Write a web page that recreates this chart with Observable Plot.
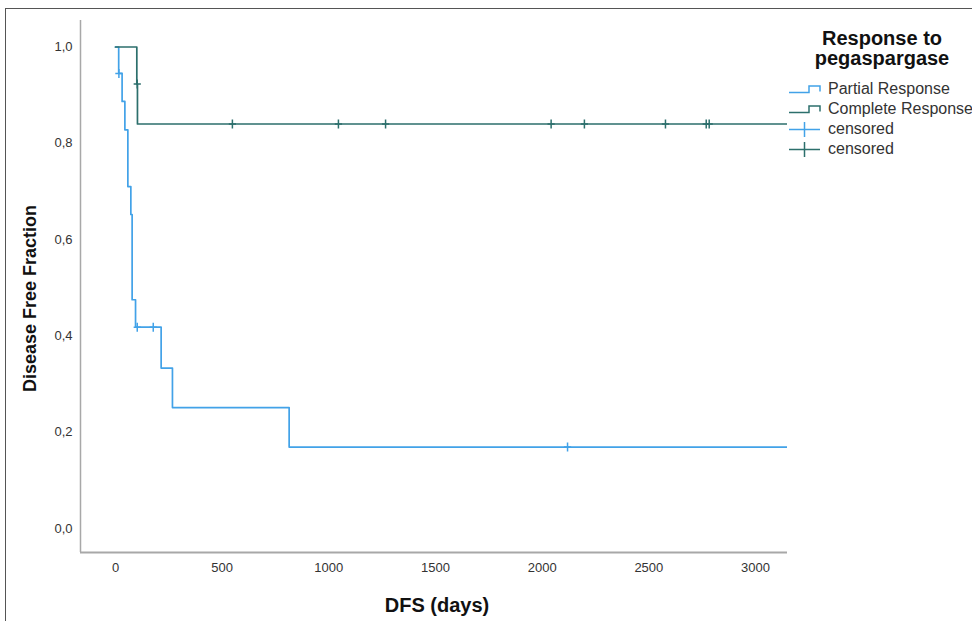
<!DOCTYPE html>
<html>
<head>
<meta charset="utf-8">
<script src="https://cdn.jsdelivr.net/npm/d3@7"></script>
<script src="https://cdn.jsdelivr.net/npm/@observablehq/plot@0.6"></script>
<style>
  html, body { margin: 0; padding: 0; background: #fff; }
  #wrap { position: relative; width: 972px; height: 621px; overflow: hidden; font-family: "Liberation Sans", Arial, sans-serif; }
  #border { position: absolute; left: 5px; top: 8px; width: 980px; height: 700px; border-top: 1.5px solid #555; border-left: 1.5px solid #555; box-sizing: border-box; pointer-events: none; }
  #legend { position: absolute; left: 780px; top: 28px; width: 192px; color: #333; }
  #legend .title { font-weight: bold; font-size: 20px; line-height: 20px; text-align: center; color: #111; margin-left: 22px; width: 160px; }
  #legend .item { position: absolute; left: 0; height: 20px; font-size: 16px; line-height: 20px; white-space: nowrap; }
  #legend .item svg { position: absolute; left: 6px; top: 0; }
  #legend .item span { position: absolute; left: 48px; top: 0; }
</style>
</head>
<body>
<div id="wrap">
  <div id="chart"></div>
  <div id="border"></div>
  <div id="legend"></div>
</div>
<script>
// ---- data ----
const groups = ["Partial Response", "Complete Response"];
const colors = ["#42a2e8", "#2c6f6c"];
const legendTitle = ["Response to", "pegaspargase"];
const censoredLabel = "censored";

const partialDays = [0, 15, 31, 44, 58, 72, 78, 94, 214, 267, 814, 3300];
const partialSurv = [1, 0.945, 0.887, 0.828, 0.71, 0.652, 0.475, 0.418, 0.333, 0.251, 0.169, 0.169];
const partialCensDays = [16, 102, 177, 2119];
const partialCensSurv = [0.945, 0.418, 0.418, 0.169];

const completeDays = [0, 100, 103, 3300];
const completeSurv = [1, 0.923, 0.84, 0.84];
const completeCensDays = [102, 548, 1045, 1266, 2042, 2198, 2578, 2769, 2783];
const completeCensSurv = [0.923, 0.84, 0.84, 0.84, 0.84, 0.84, 0.84, 0.84, 0.84];

const xTicks = [0, 500, 1000, 1500, 2000, 2500, 3000];
const yTicks = [0, 0.2, 0.4, 0.6, 0.8, 1.0];
const xLabel = "DFS (days)";
const yLabel = "Disease Free Fraction";
const xDomain = [-164, 3150];
const yDomain = [-0.05, 1.055];

// ---- build tables ----
const partial = partialDays.map((d, i) => ({day: d, surv: partialSurv[i]}));
const complete = completeDays.map((d, i) => ({day: d, surv: completeSurv[i]}));
const partialCens = partialCensDays.map((d, i) => ({day: d, surv: partialCensSurv[i]}));
const completeCens = completeCensDays.map((d, i) => ({day: d, surv: completeCensSurv[i]}));

const crossSymbol = {
  draw(context, size) {
    const r = Math.sqrt(size / Math.PI);
    context.moveTo(-r * 0.8, 0); context.lineTo(r * 0.8, 0);
    context.moveTo(0, -r); context.lineTo(0, r);
  }
};

const chart = Plot.plot({
  width: 972,
  height: 621,
  marginLeft: 80,
  marginRight: 185,
  marginTop: 20,
  marginBottom: 69,
  x: {domain: xDomain},
  y: {domain: yDomain},
  style: {fontFamily: "'Liberation Sans', Arial, sans-serif", fontSize: "13px", color: "#333", background: "transparent"},
  marks: [
    Plot.axisX({ticks: xTicks, tickSize: 0, tickPadding: 10, label: null, fontSize: 13, tickFormat: d => String(d)}),
    Plot.axisY({ticks: yTicks, tickSize: 0, tickPadding: 8, label: null, fontSize: 13,
      tickFormat: d => d.toFixed(1).replace(".", ",")}),
    Plot.ruleX([xDomain[0]], {stroke: "#a8a8a8", strokeWidth: 1.5}),
    Plot.ruleY([yDomain[0]], {stroke: "#a8a8a8", strokeWidth: 2}),
    Plot.line(partial, {x: "day", y: "surv", curve: "step-after", stroke: colors[0], strokeWidth: 1.7, clip: true}),
    Plot.line(complete, {x: "day", y: "surv", curve: "step-after", stroke: colors[1], strokeWidth: 1.7, clip: true}),
    Plot.dot(partialCens, {x: "day", y: "surv", symbol: crossSymbol, r: 4.5, stroke: colors[0], strokeWidth: 1.5, fill: "none"}),
    Plot.dot(completeCens, {x: "day", y: "surv", symbol: crossSymbol, r: 4.5, stroke: colors[1], strokeWidth: 1.5, fill: "none"}),
    Plot.text([xLabel], {frameAnchor: "bottom", dy: 53, dx: 3, fontSize: 20, fontWeight: "bold", fill: "#111", lineAnchor: "middle"}),
    Plot.text([yLabel], {frameAnchor: "left", textAnchor: "middle", dx: -50, dy: 12, rotate: -90, fontSize: 18, fontWeight: "bold", fill: "#111", lineAnchor: "middle"})
  ]
});
document.getElementById("chart").appendChild(chart);

// ---- legend ----
const legend = document.getElementById("legend");
legend.innerHTML = legendTitle.map(t => `<div class="title">${t}</div>`).join("");
const stepIcon = c => `<svg width="36" height="20"><path d="M3,13.5 H23 V7 H34 V12.5" fill="none" stroke="${c}" stroke-width="1.5"/></svg>`;
const censIcon = c => `<svg width="36" height="20"><path d="M3,10.5 H34 M18.5,3 V18" fill="none" stroke="${c}" stroke-width="1.5"/></svg>`;
const items = [
  {icon: stepIcon(colors[0]), label: groups[0]},
  {icon: stepIcon(colors[1]), label: groups[1]},
  {icon: censIcon(colors[0]), label: censoredLabel},
  {icon: censIcon(colors[1]), label: censoredLabel}
];
items.forEach((it, i) => {
  const div = document.createElement("div");
  div.className = "item";
  div.style.top = (51 + i * 20) + "px";
  div.innerHTML = it.icon + `<span>${it.label}</span>`;
  legend.appendChild(div);
});
</script>
</body>
</html>
